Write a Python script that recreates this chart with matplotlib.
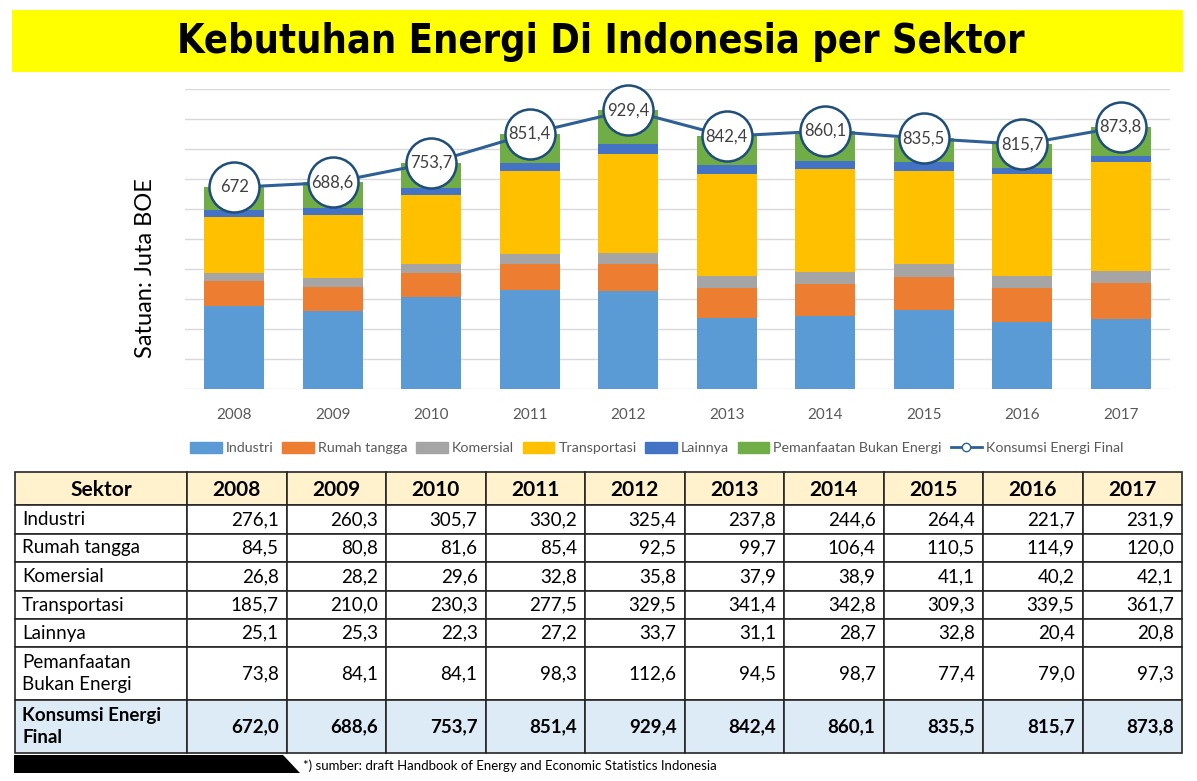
import numpy as np
import matplotlib
matplotlib.use('Agg')
import matplotlib.pyplot as plt
from matplotlib.patches import Rectangle, Polygon
from matplotlib.lines import Line2D

# data (Juta BOE)
years = ['2008', '2009', '2010', '2011', '2012', '2013', '2014', '2015', '2016', '2017']
industri = [276.1, 260.3, 305.7, 330.2, 325.4, 237.8, 244.6, 264.4, 221.7, 231.9]
rumah_tangga = [84.5, 80.8, 81.6, 85.4, 92.5, 99.7, 106.4, 110.5, 114.9, 120.0]
komersial = [26.8, 28.2, 29.6, 32.8, 35.8, 37.9, 38.9, 41.1, 40.2, 42.1]
transportasi = [185.7, 210.0, 230.3, 277.5, 329.5, 341.4, 342.8, 309.3, 339.5, 361.7]
lainnya = [25.1, 25.3, 22.3, 27.2, 33.7, 31.1, 28.7, 32.8, 20.4, 20.8]
pemanfaatan = [73.8, 84.1, 84.1, 98.3, 112.6, 94.5, 98.7, 77.4, 79.0, 97.3]
konsumsi = [672.0, 688.6, 753.7, 851.4, 929.4, 842.4, 860.1, 835.5, 815.7, 873.8]

sectors = ['Industri', 'Rumah tangga', 'Komersial', 'Transportasi', 'Lainnya',
           'Pemanfaatan Bukan Energi']
series = [industri, rumah_tangga, komersial, transportasi, lainnya, pemanfaatan]
colors = ['#5B9BD5', '#ED7D31', '#A5A5A5', '#FFC000', '#4472C4', '#70AD47']
table_rows = ['Industri', 'Rumah tangga', 'Komersial', 'Transportasi', 'Lainnya',
              'Pemanfaatan\nBukan Energi', 'Konsumsi Energi\nFinal']

W, H = 1197, 781
body_font = ['Lato', 'DejaVu Sans']
plt.rcParams['font.family'] = body_font

fig = plt.figure(figsize=(W / 100, H / 100), dpi=100)

def fx(px):
    return px / W

def fy(py):
    return 1 - py / H

# title band
fig.patches.append(Rectangle((fx(12), fy(72)), fx(1183) - fx(12), fy(10) - fy(72),
                             transform=fig.transFigure, facecolor='#FFFF00', edgecolor='none'))
fig.text(fx(601), fy(42), 'Kebutuhan Energi Di Indonesia per Sektor', ha='center', va='center',
         fontsize=28.5, fontweight='bold', family='DejaVu Sans', fontstretch='condensed',
         color='black')

# chart
ax = fig.add_axes([fx(185), fy(389), fx(1170) - fx(185), fy(89) - fy(389)])
x = np.arange(len(years))
bottom = np.zeros(len(years))
for name, vals, c in zip(sectors, series, colors):
    ax.bar(x, vals, 0.61, bottom=bottom, color=c, label=name, zorder=2)
    bottom += np.array(vals)

ax.plot(x, konsumsi, color='#2E6096', lw=2.2, zorder=3, clip_on=False)
ax.plot(x, konsumsi, 'o', ms=36, mfc='white', mec='#1F4E79', mew=1.8, zorder=4, clip_on=False)
for xi, v in zip(x, konsumsi):
    lab = ('%g' % v).replace('.', ',')
    ax.text(xi, v, lab, ha='center', va='center', fontsize=12, color='#404040', zorder=5)

ax.set_xlim(-0.5, len(years) - 0.5)
ax.set_ylim(0, 1000)
ax.set_yticks(np.arange(0, 1001, 100))
ax.yaxis.grid(True, color='#D9D9D9', lw=1, zorder=0)
ax.set_yticklabels([])
ax.tick_params(axis='y', length=0)
ax.tick_params(axis='x', length=0, pad=14, labelsize=11, labelcolor='#595959')
ax.set_xticks(x)
ax.set_xticklabels(years)
for s in ax.spines.values():
    s.set_visible(False)

fig.text(fx(145), fy(268), 'Satuan: Juta BOE', rotation=90, ha='center', va='center',
         fontsize=17, color='black')

handles = [Rectangle((0, 0), 1, 1, color=c) for c in colors]
handles.append(Line2D([0], [0], color='#2E6096', lw=2, marker='o', mfc='white',
                      mec='#2E6096', ms=6))
fig.legend(handles, sectors + ['Konsumsi Energi Final'], loc='center',
           bbox_to_anchor=(fx(657), fy(448)), ncol=7, frameon=False, fontsize=10.3,
           handlelength=2.2, handleheight=0.8, handletextpad=0.3, columnspacing=0.6,
           labelcolor='#595959')

# table
col_edges = [15, 187] + [187 + 99.5 * (i + 1) for i in range(len(years))]
row_edges = [472, 505, 534, 562, 591, 619, 647, 700, 753]
table_vals = series + [konsumsi]

def cell(x0, x1, y0, y1, fc):
    fig.patches.append(Rectangle((fx(x0), fy(y1)), fx(x1) - fx(x0), fy(y0) - fy(y1),
                                 transform=fig.transFigure, facecolor=fc,
                                 edgecolor='#262626', lw=1.2))

for j in range(len(col_edges) - 1):
    cell(col_edges[j], col_edges[j + 1], row_edges[0], row_edges[1], '#FFF2CC')
fig.text(fx((col_edges[0] + col_edges[1]) / 2), fy(490), 'Sektor', ha='center', va='center',
         fontsize=15, fontweight='bold')
for j, yr in enumerate(years):
    fig.text(fx((col_edges[j + 1] + col_edges[j + 2]) / 2), fy(490), yr, ha='center',
             va='center', fontsize=15, fontweight='bold')

for i, (name, vals) in enumerate(zip(table_rows, table_vals)):
    y0, y1 = row_edges[i + 1], row_edges[i + 2]
    last = i == len(table_rows) - 1
    fc = '#DDEBF7' if last else 'white'
    wt = 'bold' if last else 'normal'
    for j in range(len(col_edges) - 1):
        cell(col_edges[j], col_edges[j + 1], y0, y1, fc)
    ym = (y0 + y1) / 2
    fig.text(fx(22), fy(ym), name, ha='left', va='center', fontsize=13.5, fontweight=wt,
             linespacing=1.3)
    for j, v in enumerate(vals):
        fig.text(fx(col_edges[j + 2] - 8), fy(ym), ('%.1f' % v).replace('.', ','),
                 ha='right', va='center', fontsize=13.5, fontweight=wt)

# footer
fig.patches.append(Polygon([(fx(14), fy(755)), (fx(283), fy(755)), (fx(300), fy(773)),
                            (fx(14), fy(773))], closed=True, transform=fig.transFigure,
                           facecolor='black', edgecolor='none'))
fig.text(fx(303), fy(766), '*) sumber: draft Handbook of Energy and Economic Statistics Indonesia',
         ha='left', va='center', fontsize=9.5, color='black')

fig.savefig('out.png', dpi=100)
